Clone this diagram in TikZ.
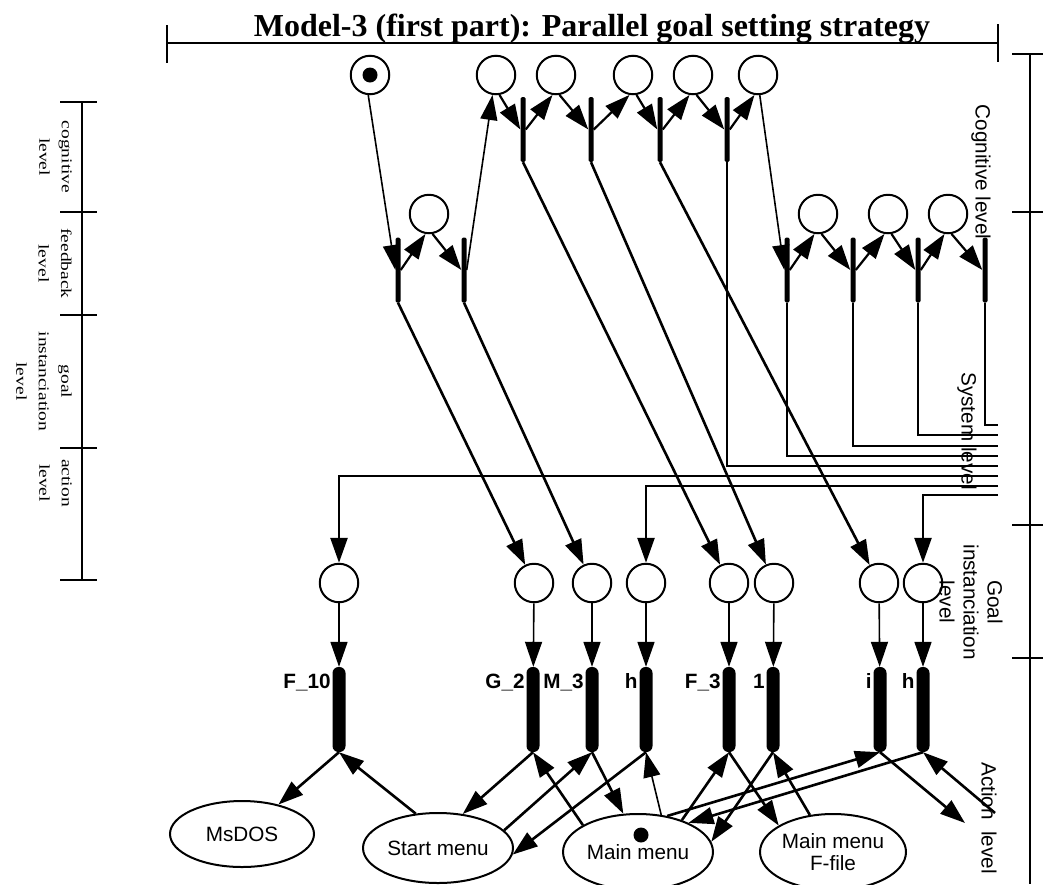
\documentclass[tikz,border=0pt]{standalone}
\usepackage{fontspec}
\setmainfont{Liberation Serif}
\setsansfont{Liberation Sans}
\newfontfamily\stretchserif[FakeStretch=1.3]{Liberation Serif}
\usetikzlibrary{arrows.meta,shapes.geometric}

\tikzset{
  pcirc/.style={circle, draw, line width=2pt, minimum size=38.5pt, inner sep=0pt},
  token/.style={circle, fill=black, minimum size=15pt, inner sep=0pt},
  tbar/.style={rectangle, fill=black, minimum width=5pt, minimum height=65pt, inner sep=0pt, rounded corners=1.5pt},
  abar/.style={rectangle, fill=black, minimum width=13pt, minimum height=85pt, inner sep=0pt, rounded corners=6pt},
  tname/.style={font=\sffamily\bfseries\fontsize{20.7}{24}\selectfont, anchor=base east, inner sep=0pt},
  oval/.style={ellipse, draw, line width=2pt, inner sep=0pt, align=center, font=\sffamily\fontsize{20.7}{22}\selectfont},
  ahead/.style={-{Triangle[length=25pt,width=17pt]}},
  heavy/.style={ahead, line width=2.6pt},
  medium/.style={ahead, line width=2.2pt},
  light/.style={ahead, line width=1.6pt},
  bus/.style={line width=2.6pt},
  scaleline/.style={line width=2pt},
  sidelab/.style={rotate=-90, font=\sffamily\fontsize{20.7}{24}\selectfont, align=center, inner sep=0pt},
  levlab/.style={rotate=-90, anchor=north, font=\stretchserif\fontsize{15}{22.5}\selectfont, align=center, inner sep=0pt},
}

\begin{document}
\begin{tikzpicture}[x=1pt,y=-1pt]
\useasboundingbox (0,0) rectangle (1043,884);

% ---- title and its rule
\node[anchor=base, inner sep=0pt, font=\bfseries\fontsize{32}{38}\selectfont] (title) at (592,36) {Model-3 (first part): Parallel goal setting strategy};
\draw[scaleline] (167,43) -- (998,43);
\draw[scaleline] (167,25) -- (167,63);
\draw[scaleline] (998,24) -- (998,62);

% ---- left level scale
\draw[scaleline] (82,102) -- (82,580);
\foreach \yy in {102,212,315,448,580} \draw[scaleline] (60,\yy) -- (97,\yy);
\node[levlab] (lcog) at (72,157) {cognitive\\level};
\node[levlab] (lfb) at (72,263.5) {feedback\\level};
\node[levlab] (lgoal) at (72,381.5) {goal\\instanciation\\level};
\node[levlab] (lact) at (72,483) {action\\level};

% ---- right level scale
\draw[scaleline] (1030,54) -- (1030,884);
\foreach \yy in {54,212,525,658} \draw[scaleline] (1012,\yy) -- (1043,\yy);
\node[sidelab] (rcog) at (981,172) {Cognitive level};
\node[sidelab] (rsys) at (967,431) {System level};
\node[sidelab] (rgoal) at (971,602) {Goal\\instanciation\\level};
\node[sidelab] (ract) at (989,818) {Action\ \ level};

% ---- cognitive level: places and transitions
\node[pcirc] (c0) at (370,75) {};
\node[token] (tok0) at (c0) {};
\node[pcirc] (c1) at (496,75) {};
\node[pcirc] (c2) at (556,75) {};
\node[pcirc] (c3) at (633,75) {};
\node[pcirc] (c4) at (693,75) {};
\node[pcirc] (c5) at (758,75) {};
\node[tbar] (b1) at (523,129.5) {};
\node[tbar] (b2) at (591,129.5) {};
\node[tbar] (b3) at (660,129.5) {};
\node[tbar] (b4) at (727,129.5) {};

% ---- feedback level
\node[tbar] (l1) at (398,270) {};
\node[pcirc] (lf) at (429,214) {};
\node[tbar] (l2) at (464,270) {};
\node[tbar] (r1) at (787,270) {};
\node[pcirc] (rf1) at (818,214) {};
\node[tbar] (r2) at (853,270) {};
\node[pcirc] (rf2) at (888,214) {};
\node[tbar] (r3) at (918,270) {};
\node[pcirc] (rf3) at (948,214) {};
\node[tbar] (r4) at (985,270) {};

% ---- goal instanciation level
\node[pcirc] (gF10) at (339,583) {};
\node[pcirc] (gG2) at (534,583) {};
\node[pcirc] (gM3) at (592,583) {};
\node[pcirc] (gh) at (646,583) {};
\node[pcirc] (gF3) at (729,583) {};
\node[pcirc] (g1) at (774,583) {};
\node[pcirc] (gi) at (879,583) {};
\node[pcirc] (gh2) at (923,583) {};

% ---- action level transitions and their names
\node[abar] (aF10) at (339,709.5) {};
\node[abar] (aG2) at (533,709.5) {};
\node[abar] (aM3) at (592,709.5) {};
\node[abar] (ah) at (646,709.5) {};
\node[abar] (aF3) at (729,709.5) {};
\node[abar] (a1) at (773,709.5) {};
\node[abar] (ai) at (880,709.5) {};
\node[abar] (ah2) at (923,709.5) {};
\foreach \b/\t in {aF10/F\_10, aG2/G\_2, aM3/M\_3, ah/h, aF3/F\_3, a1/1, ai/i, ah2/h}
  \node[tname] (n\b) at ([xshift=-1.5pt,yshift=21.5pt]\b.west) {\t};

% ---- system states
\node[oval, minimum width=144pt, minimum height=66pt] (msdos) at (242,834) {MsDOS};
\node[oval, minimum width=150pt, minimum height=70pt] (start) at (438,848) {Start menu};
\node[oval, minimum width=150pt, minimum height=76pt] (mmenu) at (638,852) {Main menu};
\node[token] (mdot) at (641,835) {};
\node[oval, minimum width=146pt, minimum height=76pt] (ffile) at (833,852) {Main menu\\F-file};

% ---- cognitive / feedback arcs
\draw[light] (c0.-95) -- (l1.west);
\draw[medium] (l1.east) -- (lf.-100);
\draw[medium] (lf.-80) -- (l2.west);
\draw[light] (l2.east) -- (c1.-100);
\draw[medium] (c1.-80) -- (b1.west);
\draw[medium] (b1.east) -- (c2.-100);
\draw[medium] (c2.-80) -- (b2.west);
\draw[medium] (b2.east) -- (c3.-100);
\draw[medium] (c3.-80) -- (b3.west);
\draw[medium] (b3.east) -- (c4.-100);
\draw[medium] (c4.-80) -- (b4.west);
\draw[medium] (b4.east) -- (c5.-100);
\draw[light] (c5.-85) -- (r1.west);
\draw[medium] (r1.east) -- (rf1.-100);
\draw[medium] (rf1.-80) -- (r2.west);
\draw[medium] (r2.east) -- (rf2.-100);
\draw[medium] (rf2.-80) -- (r3.west);
\draw[medium] (r3.east) -- (rf3.-100);
\draw[medium] (rf3.-80) -- (r4.west);

% ---- goals set directly
\draw[heavy] (l1.south) -- (gG2);
\draw[heavy] (l2.south) -- (gM3);
\draw[heavy] (b1.south) -- (gF3);
\draw[heavy] (b2.south) -- (g1);
\draw[heavy] (b3.south) -- (gi);

% ---- system level bus
\coordinate (k1) at (998,425);
\coordinate (k2) at (998,435);
\coordinate (k3) at (998,446);
\coordinate (k4) at (998,456);
\coordinate (k5) at (998,466);
\coordinate (k6) at (998,476);
\coordinate (k7) at (998,486);
\coordinate (k8) at (998,495);
\draw[bus] (r4.south) |- (k1);
\draw[bus] (r3.south) |- (k2);
\draw[bus] (r2.south) |- (k3);
\draw[bus] (r1.south) |- (k4);
\draw[bus] (b4.south) |- (k5);
\draw[heavy] (k6) -| (gF10);
\draw[heavy] (k7) -| (gh);
\draw[heavy] (k8) -| (gh2);

% ---- goal to action
\foreach \g/\a in {gF10/aF10, gG2/aG2, gM3/aM3, gh/ah, gF3/aF3, g1/a1, gi/ai, gh2/ah2}
  \draw[light] (\g) -- (\a);

% ---- action level arcs
\draw[heavy] (aF10.south) -- (msdos.39);
\draw[heavy] (start.123) -- (aF10.south);
\draw[heavy] (aG2.south) -- (start.54);
\draw[heavy] (start.15) -- (aM3.south);
\draw[heavy] (aM3.south) -- (mmenu.111);
\draw[heavy] (mmenu.154) -- (aG2.south);
\draw[heavy] (ah.south) -- (start.-5);
\draw[light] (mmenu.58) -- (ah.south);
\draw[heavy] (mmenu.51) -- (ai.south);
\draw[heavy] (ah2.south) -- (mmenu.30);
\draw[heavy] (aF3.south) -- (ffile.154);
\draw[heavy] (mmenu.36) -- (aF3.south);
\draw[heavy] (a1.south) -- (mmenu.8);
\draw[heavy] (ffile.122) -- (a1.south);
\coordinate (iout) at (965,823);
\coordinate (hin) at (995,813);
\draw[heavy] (ai.south) -- (iout);
\draw[heavy] (hin) -- (ah2.south);
\end{tikzpicture}
\end{document}
